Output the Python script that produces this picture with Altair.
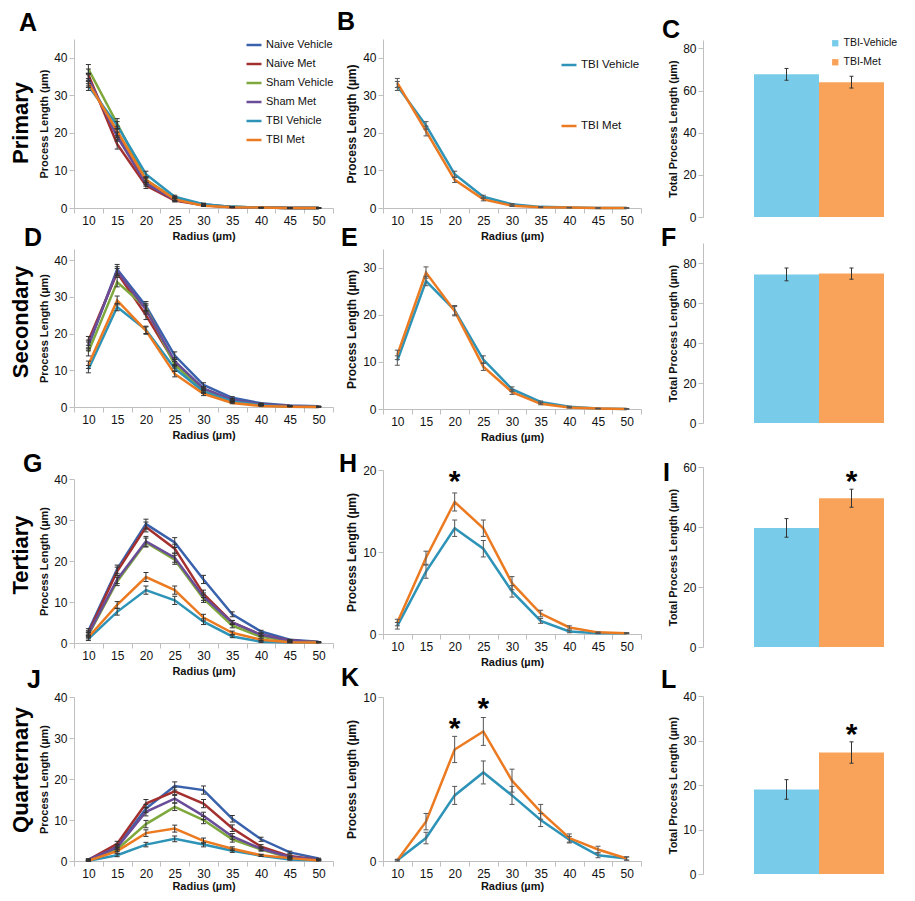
import altair as alt
import pandas as pd

FONT = "Liberation Sans"
W, H = 899, 885
M = 8  # page margin

radius = [10, 15, 20, 25, 30, 35, 40, 45, 50]
series = ["Naive Vehicle", "Naive Met", "Sham Vehicle", "Sham Met", "TBI Vehicle", "TBI Met"]
series_colors = ["#3A62AC", "#A3302E", "#7EA83C", "#6A4D99", "#2D93B7", "#EB7A21"]
tbi_series = ["TBI Vehicle", "TBI Met"]
tbi_colors = ["#2D93B7", "#EB7A21"]
groups = ["TBI-Vehicle", "TBI-Met"]
group_colors = ["#78CCE9", "#F9A35A"]

# ---- Primary (A, B) ----
primary_mean = {
    "Naive Vehicle": [34.0, 20.0, 7.0, 2.5, 1.0, 0.3, 0.1, 0.0, 0.0],
    "Naive Met":     [35.5, 17.0, 6.0, 2.0, 0.7, 0.2, 0.1, 0.0, 0.0],
    "Sham Vehicle":  [37.0, 22.5, 7.5, 2.5, 0.8, 0.3, 0.1, 0.0, 0.0],
    "Sham Met":      [34.5, 19.0, 6.5, 2.2, 0.8, 0.2, 0.1, 0.0, 0.0],
    "TBI Vehicle":   [32.5, 22.0, 9.0, 3.0, 1.0, 0.3, 0.1, 0.0, 0.0],
    "TBI Met":       [33.3, 20.5, 7.5, 2.3, 0.6, 0.2, 0.1, 0.0, 0.0],
}
primary_err = {
    "Naive Vehicle": [1.5, 1.2, 0.8, 0.5, 0.3, 0.1, 0.05, 0.0, 0.0],
    "Naive Met":     [1.5, 1.3, 0.8, 0.4, 0.2, 0.1, 0.05, 0.0, 0.0],
    "Sham Vehicle":  [1.2, 1.3, 0.8, 0.5, 0.2, 0.1, 0.05, 0.0, 0.0],
    "Sham Met":      [1.4, 1.2, 0.7, 0.4, 0.2, 0.1, 0.05, 0.0, 0.0],
    "TBI Vehicle":   [1.2, 1.0, 0.8, 0.4, 0.2, 0.1, 0.05, 0.0, 0.0],
    "TBI Met":       [1.2, 1.3, 0.7, 0.4, 0.2, 0.1, 0.05, 0.0, 0.0],
}
# ---- Secondary (D, E) ----
secondary_mean = {
    "Naive Vehicle": [16.5, 37.5, 27.5, 14.0, 6.0, 2.5, 1.0, 0.4, 0.2],
    "Naive Met":     [18.0, 36.5, 25.0, 12.0, 5.0, 1.8, 0.7, 0.3, 0.1],
    "Sham Vehicle":  [15.0, 34.0, 27.0, 11.5, 4.5, 1.5, 0.5, 0.2, 0.1],
    "Sham Met":      [17.0, 37.0, 26.5, 12.5, 5.0, 2.0, 0.7, 0.3, 0.1],
    "TBI Vehicle":   [10.3, 27.2, 21.0, 10.5, 4.2, 1.5, 0.5, 0.1, 0.0],
    "TBI Met":       [11.5, 29.0, 20.8, 9.0, 3.6, 1.1, 0.3, 0.1, 0.0],
}
secondary_err = {
    "Naive Vehicle": [1.2, 1.3, 1.2, 1.0, 0.6, 0.3, 0.1, 0.05, 0.05],
    "Naive Met":     [1.2, 1.2, 1.2, 0.9, 0.5, 0.3, 0.1, 0.05, 0.05],
    "Sham Vehicle":  [1.1, 1.3, 1.1, 0.9, 0.5, 0.2, 0.1, 0.05, 0.05],
    "Sham Met":      [1.2, 1.2, 1.2, 0.9, 0.5, 0.3, 0.1, 0.05, 0.05],
    "TBI Vehicle":   [1.0, 1.0, 1.0, 0.8, 0.5, 0.2, 0.1, 0.05, 0.05],
    "TBI Met":       [1.0, 1.2, 1.0, 0.8, 0.5, 0.2, 0.1, 0.05, 0.05],
}
# ---- Tertiary (G, H) ----
tertiary_mean = {
    "Naive Vehicle": [3.0, 18.0, 29.0, 24.5, 15.5, 7.0, 2.8, 0.8, 0.3],
    "Naive Met":     [2.5, 17.5, 28.3, 23.0, 12.0, 5.0, 2.0, 0.6, 0.2],
    "Sham Vehicle":  [2.0, 15.0, 24.5, 20.3, 10.8, 4.2, 1.5, 0.5, 0.2],
    "Sham Met":      [2.2, 15.5, 24.8, 20.8, 11.3, 5.0, 2.0, 0.6, 0.2],
    "TBI Vehicle":   [1.0, 7.6, 12.9, 10.4, 5.2, 1.6, 0.3, 0.1, 0.1],
    "TBI Met":       [1.4, 9.3, 16.1, 12.9, 6.2, 2.5, 0.8, 0.2, 0.1],
}
tertiary_err = {
    "Naive Vehicle": [0.5, 1.0, 1.2, 1.2, 1.0, 0.6, 0.3, 0.1, 0.05],
    "Naive Met":     [0.5, 1.0, 1.2, 1.1, 0.9, 0.5, 0.3, 0.1, 0.05],
    "Sham Vehicle":  [0.5, 1.0, 1.1, 1.1, 0.9, 0.5, 0.3, 0.1, 0.05],
    "Sham Met":      [0.5, 1.0, 1.2, 1.1, 0.9, 0.5, 0.3, 0.1, 0.05],
    "TBI Vehicle":   [0.4, 0.8, 1.0, 1.0, 0.7, 0.3, 0.15, 0.05, 0.05],
    "TBI Met":       [0.4, 0.8, 1.1, 1.0, 0.8, 0.4, 0.2, 0.05, 0.05],
}
# ---- Quarternary (J, K) ----
quaternary_mean = {
    "Naive Vehicle": [0.3, 3.5, 12.8, 18.3, 17.3, 10.3, 5.3, 2.1, 0.6],
    "Naive Met":     [0.3, 4.2, 14.0, 17.0, 14.0, 8.0, 3.5, 1.2, 0.3],
    "Sham Vehicle":  [0.2, 2.8, 9.0, 13.2, 10.0, 5.3, 2.8, 0.8, 0.2],
    "Sham Met":      [0.3, 3.3, 12.0, 15.2, 11.0, 6.0, 3.0, 1.0, 0.3],
    "TBI Vehicle":   [0.05, 1.4, 4.0, 5.4, 4.0, 2.5, 1.3, 0.35, 0.15],
    "TBI Met":       [0.05, 2.4, 6.8, 7.9, 4.9, 3.0, 1.4, 0.7, 0.15],
}
quaternary_err = {
    "Naive Vehicle": [0.2, 0.6, 1.0, 1.0, 1.0, 0.8, 0.5, 0.3, 0.1],
    "Naive Met":     [0.2, 0.6, 1.0, 1.0, 1.0, 0.8, 0.5, 0.3, 0.1],
    "Sham Vehicle":  [0.2, 0.5, 0.9, 0.9, 0.9, 0.7, 0.4, 0.2, 0.1],
    "Sham Met":      [0.2, 0.6, 1.0, 1.0, 0.9, 0.7, 0.4, 0.2, 0.1],
    "TBI Vehicle":   [0.05, 0.35, 0.55, 0.7, 0.55, 0.4, 0.2, 0.15, 0.1],
    "TBI Met":       [0.05, 0.5, 0.8, 0.85, 0.7, 0.45, 0.25, 0.2, 0.1],
}
# ---- Totals (C, F, I, L) ----
primary_total = [67.7, 64.0]
primary_total_err = [2.8, 2.8]
secondary_total = [74.3, 74.7]
secondary_total_err = [3.2, 2.8]
tertiary_total = [39.7, 49.6]
tertiary_total_err = [3.1, 3.0]
quaternary_total = [19.0, 27.3]
quaternary_total_err = [2.2, 2.4]

# significance markers (x category, height of star)
h_stars = [20]
h_star_y = [19.4]
k_stars = [20, 25]
k_star_y = [8.5, 9.7]
i_star_y = 57.3
l_star_y = 32.8


def line_panel(mean, err, names, colors, left, right, bottom, top, ymax, yticks,
               legend=None, star_x=None, star_y=None, err_color="#333333",
               ytitle_size=11, xtitle_pad=4):
    rows = []
    for s in names:
        for r, m, e in zip(radius, mean[s], err[s]):
            rows.append({"radius": r, "series": s, "mean": m,
                         "lo": max(m - e, 0.0), "hi": m + e})
    df = pd.DataFrame(rows)

    def xenc():
        return alt.X("radius:O", bandPosition=0.5,
                     scale=alt.Scale(type="band", domain=radius, range=[left - M, right - M],
                                     paddingInner=0, paddingOuter=0),
                     axis=alt.Axis(orient="bottom", offset=-(H - (bottom - M)), title="Radius (µm)",
                                   tickBand="extent", labelAngle=0, values=radius,
                                   titlePadding=xtitle_pad))

    def yenc(field):
        return alt.Y(f"{field}:Q",
                     scale=alt.Scale(domain=[0, ymax], range=[bottom - M, top - M], nice=False, zero=False),
                     axis=alt.Axis(orient="left", offset=-(left - M), values=yticks,
                                   title="Process Length (µm)", titleFontSize=ytitle_size))

    base = alt.Chart(df)
    lines = base.mark_line(strokeWidth=2.5).encode(
        x=xenc(), y=yenc("mean"),
        color=alt.Color("series:N", scale=alt.Scale(domain=names, range=colors), legend=legend),
    )
    rules = base.mark_rule(color=err_color, strokeWidth=1).encode(x=xenc(), y=yenc("lo"), y2="hi:Q")
    cap_lo = base.mark_tick(color=err_color, size=5, thickness=1, opacity=1).encode(x=xenc(), y=yenc("lo"))
    cap_hi = base.mark_tick(color=err_color, size=5, thickness=1, opacity=1).encode(x=xenc(), y=yenc("hi"))
    layers = [lines, rules, cap_lo, cap_hi]
    if star_x:
        sdf = pd.DataFrame({"radius": star_x, "star": star_y})
        stars = alt.Chart(sdf).mark_text(text="*", font=FONT, fontSize=30, fontWeight="bold",
                                         baseline="alphabetic", dy=16, color="#000").encode(
            x=xenc(), y=yenc("star"))
        layers.append(stars)
    return alt.layer(*layers)


def bar_panel(vals, errs, bottom, top, ymax, yticks, legend=None, star_y=None):
    df = pd.DataFrame({"group": groups, "total": vals,
                       "lo": [v - e for v, e in zip(vals, errs)],
                       "hi": [v + e for v, e in zip(vals, errs)]})

    def xenc():
        return alt.X("group:N", bandPosition=0.5,
                     scale=alt.Scale(type="band", domain=groups, range=[754 - M, 884 - M],
                                     paddingInner=0, paddingOuter=0),
                     axis=None)

    def yenc(field):
        return alt.Y(f"{field}:Q",
                     scale=alt.Scale(domain=[0, ymax], range=[bottom - M, top - M], nice=False, zero=False),
                     axis=alt.Axis(orient="left", offset=-(703 - M), values=yticks,
                                   title="Total Process Length (µm)"))

    base = alt.Chart(df)
    bars = base.mark_bar().encode(
        x=alt.X("group:N",
                scale=alt.Scale(type="band", domain=groups, range=[754 - M, 884 - M],
                                paddingInner=0, paddingOuter=0),
                axis=None),
        y=yenc("total"),
        color=alt.Color("group:N", scale=alt.Scale(domain=groups, range=group_colors), legend=legend),
    )
    rules = base.mark_rule(color="#333333", strokeWidth=1).encode(x=xenc(), y=yenc("lo"), y2="hi:Q")
    cap_lo = base.mark_tick(color="#333333", size=4, thickness=1, opacity=1).encode(x=xenc(), y=yenc("lo"))
    cap_hi = base.mark_tick(color="#333333", size=4, thickness=1, opacity=1).encode(x=xenc(), y=yenc("hi"))
    layers = [bars, rules, cap_lo, cap_hi]
    if star_y is not None:
        sdf = pd.DataFrame({"group": [groups[1]], "star": [star_y]})
        layers.append(alt.Chart(sdf).mark_text(text="*", font=FONT, fontSize=30, fontWeight="bold",
                                               baseline="alphabetic", dy=16, color="#000").encode(
            x=xenc(), y=yenc("star")))
    return alt.layer(*layers)


def label(text, x, y, size=25, angle=0, align="left"):
    return alt.Chart(alt.Data(values=[{}])).mark_text(
        text=text, font=FONT, fontSize=size, fontWeight="bold", color="#000",
        align=align, baseline="alphabetic", angle=angle,
    ).encode(x=alt.value(x - M), y=alt.value(y - M))


leg_a = alt.Legend(title=None, orient="none", legendX=237, legendY=28, labelFont=FONT,
                   labelFontSize=11, labelColor="#111", symbolType="stroke", symbolStrokeWidth=2.5,
                   symbolSize=225, rowPadding=5, labelOffset=3)
leg_b = alt.Legend(title=None, orient="none", legendX=552, legendY=48, labelFont=FONT,
                   labelFontSize=11.5, labelColor="#111", symbolType="stroke", symbolStrokeWidth=2.5,
                   symbolSize=225, rowPadding=46, labelOffset=3)
leg_c = alt.Legend(title=None, orient="none", legendX=822, legendY=30, labelFont=FONT,
                   labelFontSize=10.5, labelColor="#111", symbolType="square", symbolSize=40,
                   symbolStrokeWidth=0, rowPadding=8, labelOffset=3, labelLimit=80)

C1L, C1R = 74, 333
C2L, C2R = 383, 641

panels = [
    line_panel(primary_mean, primary_err, series, series_colors, C1L, C1R, 208, 39, 45,
               [0, 10, 20, 30, 40], legend=leg_a),
    line_panel(primary_mean, primary_err, tbi_series, tbi_colors, C2L, C2R, 208, 39, 45,
               [0, 10, 20, 30, 40], legend=leg_b, err_color="#555555", ytitle_size=12),
    bar_panel(primary_total, primary_total_err, 217, 40, 84, [0, 20, 40, 60, 80], legend=leg_c),

    line_panel(secondary_mean, secondary_err, series, series_colors, C1L, C1R, 407, 249, 43,
               [0, 10, 20, 30, 40]),
    line_panel(secondary_mean, secondary_err, tbi_series, tbi_colors, C2L, C2R, 409, 249, 34,
               [0, 10, 20, 30], err_color="#555555", ytitle_size=12),
    bar_panel(secondary_total, secondary_total_err, 423, 243, 90, [0, 20, 40, 60, 80]),

    line_panel(tertiary_mean, tertiary_err, series, series_colors, C1L, C1R, 643, 479, 40,
               [0, 10, 20, 30, 40]),
    line_panel(tertiary_mean, tertiary_err, tbi_series, tbi_colors, C2L, C2R, 634, 470, 20,
               [0, 10, 20], star_x=h_stars, star_y=h_star_y, err_color="#555555", ytitle_size=12),
    bar_panel(tertiary_total, tertiary_total_err, 647, 467, 60, [0, 20, 40, 60], star_y=i_star_y),

    line_panel(quaternary_mean, quaternary_err, series, series_colors, C1L, C1R, 861, 697, 40,
               [0, 10, 20, 30, 40], xtitle_pad=1),
    line_panel(quaternary_mean, quaternary_err, tbi_series, tbi_colors, C2L, C2R, 861, 697, 10,
               [0, 10], star_x=k_stars, star_y=k_star_y, err_color="#555555", ytitle_size=12,
               xtitle_pad=1),
    bar_panel(quaternary_total, quaternary_total_err, 874, 696, 40, [0, 10, 20, 30, 40], star_y=l_star_y),
]

texts = [
    label("A", 19, 31), label("B", 337, 30), label("C", 662, 38),
    label("D", 24, 246), label("E", 341, 246), label("F", 661, 246),
    label("G", 23, 472), label("H", 339, 472), label("I", 663, 481),
    label("J", 27, 688), label("K", 341, 686), label("L", 661, 688),
    label("Primary", 28, 123, size=22, angle=270, align="center"),
    label("Secondary", 28, 322, size=22, angle=270, align="center"),
    label("Tertiary", 28, 555, size=22, angle=270, align="center"),
    label("Quarternary", 28, 770, size=22, angle=270, align="center"),
]

chart = (
    alt.layer(*panels, *texts)
    .resolve_scale(x="independent", y="independent", color="independent")
    .resolve_axis(x="independent", y="independent")
    .resolve_legend(color="independent")
    .properties(width=W, height=H, autosize=alt.AutoSizeParams(type="none"), padding=0)
    .configure_view(stroke=None)
    .configure_axis(
        grid=False, domainColor="#BFBFBF", tickColor="#BFBFBF", tickSize=5,
        labelFont=FONT, labelFontSize=12, labelColor="#111", labelPadding=2,
        titleFont=FONT, titleFontSize=11, titleFontWeight="bold", titleColor="#111", titlePadding=4,
    )
)

chart.save("out.html", embed_options={"renderer": "svg", "actions": False})
